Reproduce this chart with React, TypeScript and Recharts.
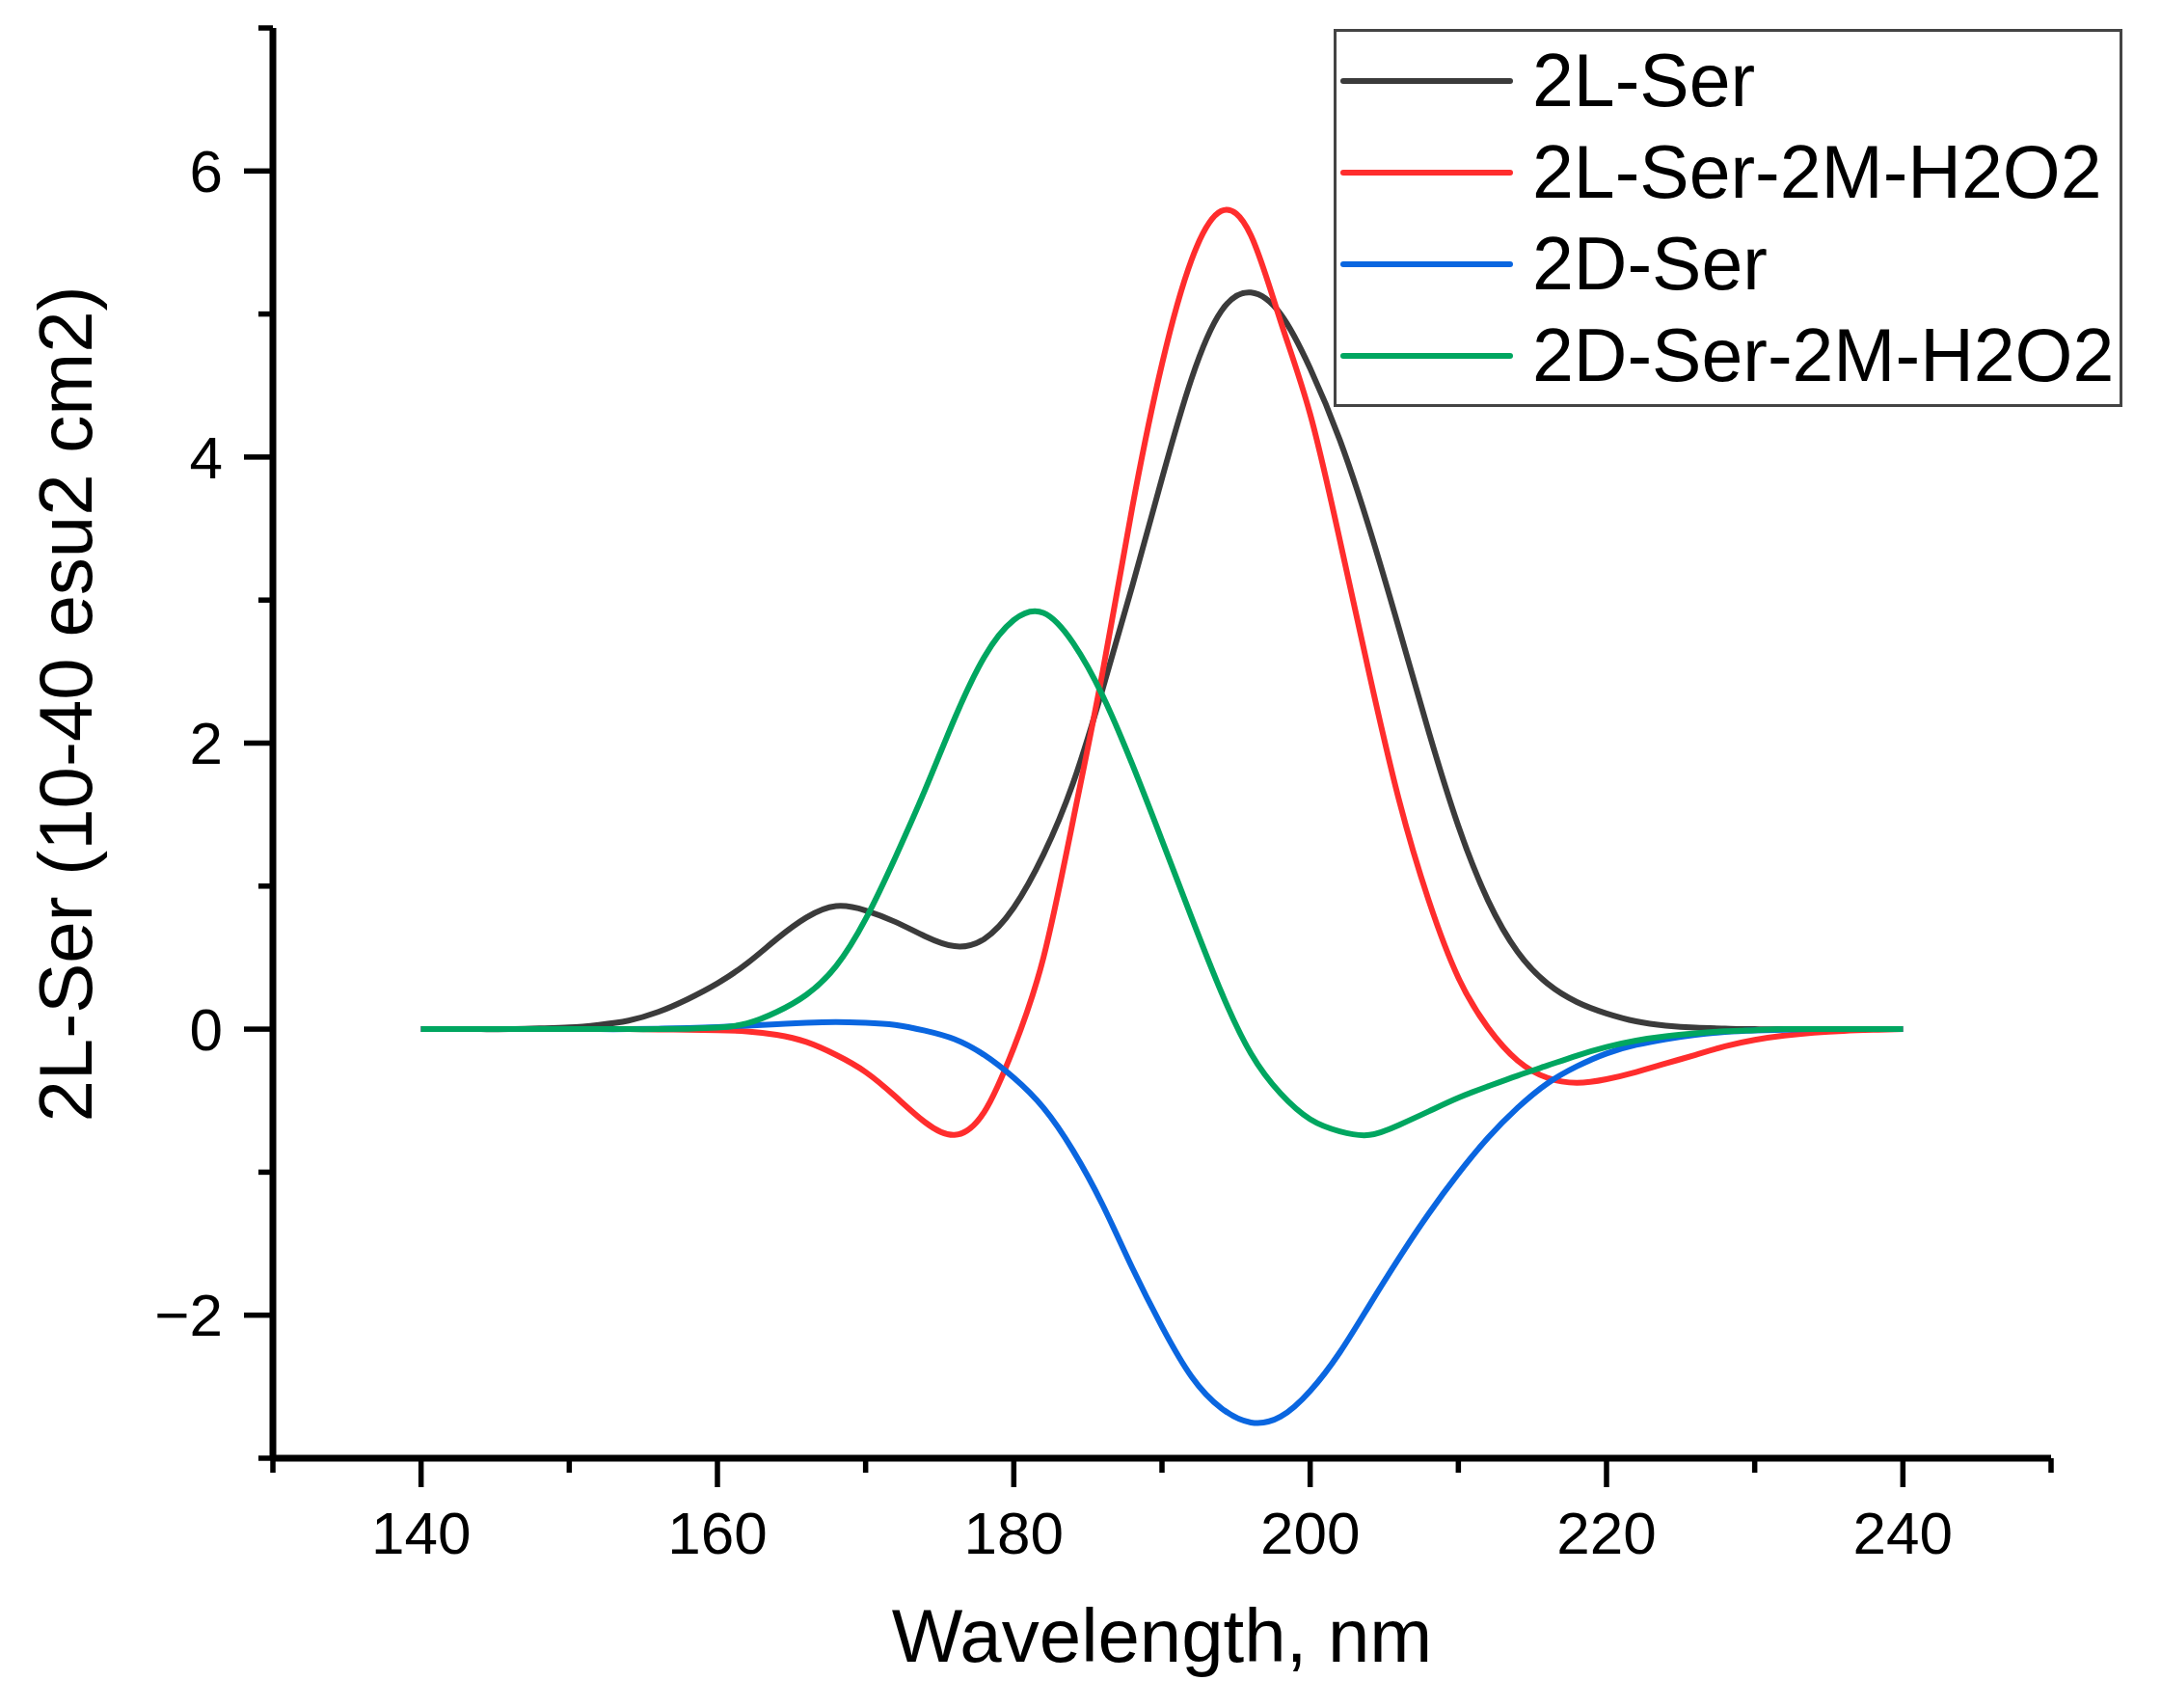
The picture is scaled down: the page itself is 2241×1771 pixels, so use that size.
import React from "react";
import { LineChart, Line, XAxis, YAxis, Legend } from "recharts";

// wavelength (nm)
const wavelength = [
  140, 142, 144, 146, 148, 150, 152, 154, 156, 158, 160, 162, 164, 166, 168, 170, 172,
  174, 176, 178, 180, 182, 184, 186, 188, 190, 192, 194, 196, 198, 200, 202, 204, 206,
  208, 210, 212, 214, 216, 218, 220, 222, 224, 226, 228, 230, 232, 234, 236, 238, 240,
];

// 2L-Ser
const lSer = [
  0, 0, 0, 0, 0.005, 0.012, 0.03, 0.06, 0.12, 0.21, 0.32, 0.46, 0.63, 0.78, 0.86, 0.83,
  0.75, 0.65, 0.58, 0.63, 0.85, 1.22, 1.72, 2.38, 3.1, 3.85, 4.55, 5.02, 5.15, 5.0, 4.62,
  4.12, 3.5, 2.8, 2.08, 1.42, 0.9, 0.54, 0.32, 0.19, 0.11, 0.055, 0.025, 0.01, 0.004,
  0, 0, 0, 0, 0, 0,
];

// 2L-Ser-2M-H2O2
const lSerH2O2 = [
  0, 0, 0, 0, 0, 0, 0, 0, -0.002, -0.004, -0.007, -0.016, -0.04, -0.09, -0.18, -0.3,
  -0.47, -0.65, -0.74, -0.58, -0.13, 0.5, 1.46, 2.5, 3.65, 4.65, 5.38, 5.72, 5.55, 4.95,
  4.3, 3.42, 2.48, 1.6, 0.9, 0.36, 0.01, -0.22, -0.34, -0.375, -0.35, -0.3, -0.24, -0.18,
  -0.12, -0.075, -0.045, -0.025, -0.012, -0.005, 0,
];

// 2D-Ser
const dSer = [
  0, 0, 0, 0, 0, 0, 0, 0, 0.003, 0.008, 0.015, 0.025, 0.035, 0.045, 0.05, 0.045, 0.03,
  -0.01, -0.07, -0.18, -0.34, -0.55, -0.85, -1.23, -1.67, -2.08, -2.43, -2.65, -2.75,
  -2.71, -2.53, -2.26, -1.93, -1.6, -1.29, -1.01, -0.76, -0.55, -0.38, -0.26, -0.17, -0.11,
  -0.07, -0.04, -0.02, -0.01, -0.004, 0, 0, 0, 0,
];

// 2D-Ser-2M-H2O2
const dSerH2O2 = [
  0, 0, 0, 0, 0, 0, 0, 0, 0, 0.003, 0.01, 0.04, 0.12, 0.24, 0.44, 0.77, 1.2, 1.67, 2.17,
  2.6, 2.86, 2.91, 2.7, 2.33, 1.85, 1.32, 0.78, 0.26, -0.17, -0.45, -0.63, -0.715, -0.74,
  -0.67, -0.575, -0.48, -0.4, -0.325, -0.255, -0.185, -0.125, -0.08, -0.05, -0.03, -0.015,
  -0.007, 0, 0, 0, 0, 0,
];

const xTicks = [130, 140, 150, 160, 170, 180, 190, 200, 210, 220, 230, 240, 250];
const xLabelled = [140, 160, 180, 200, 220, 240];
const yTicks = [-3, -2, -1, 0, 1, 2, 3, 4, 5, 6, 7];
const yLabelled = [-2, 0, 2, 4, 6];

const series = [
  { key: "lSer", name: "2L-Ser", color: "#3b3b3b" },
  { key: "lSerH2O2", name: "2L-Ser-2M-H2O2", color: "#ff2d2d" },
  { key: "dSer", name: "2D-Ser", color: "#0a66e0" },
  { key: "dSerH2O2", name: "2D-Ser-2M-H2O2", color: "#00a660" },
];

const chartData = wavelength.map((x, i) => ({
  x,
  lSer: lSer[i],
  lSerH2O2: lSerH2O2[i],
  dSer: dSer[i],
  dSerH2O2: dSerH2O2[i],
}));

const FONT = '"Liberation Sans", Arial, Helvetica, sans-serif';

function XTick(props: any) {
  const { x, y, payload } = props;
  const major = xLabelled.includes(payload.value);
  return (
    <g>
      <line x1={x} x2={x} y1={y} y2={y + (major ? 30 : 15)} stroke="#000" strokeWidth={5.5} />
      {major && (
        <text x={x} y={y + 99} textAnchor="middle" fontSize={62} fontFamily={FONT} fill="#000">
          {payload.value}
        </text>
      )}
    </g>
  );
}

function YTick(props: any) {
  const { x, y, payload } = props;
  const v = payload.value;
  const major = yLabelled.includes(v);
  return (
    <g>
      <line x1={x} x2={x - (major ? 30 : 15)} y1={y} y2={y} stroke="#000" strokeWidth={5.5} />
      {major && (
        <text x={x - 52} y={y} dy="0.35em" textAnchor="end" fontSize={62} fontFamily={FONT} fill="#000">
          {v < 0 ? `\u2212${-v}` : `${v}`}
        </text>
      )}
    </g>
  );
}

// legend drawn in series order (recharts would sort it by name)
function LegendBox() {
  return (
    <div
      style={{
        width: 818,
        height: 392,
        boxSizing: "border-box",
        border: "3px solid #444",
        background: "#fff",
        paddingTop: 3,
        fontFamily: FONT,
      }}
    >
      {series.map((s) => (
        <div key={s.key} style={{ display: "flex", alignItems: "center", height: 95 }}>
          <div style={{ width: 179, height: 6, borderRadius: 3, background: s.color, marginLeft: 4 }} />
          <span style={{ marginLeft: 20, fontSize: 77, lineHeight: 1, color: "#000", whiteSpace: "nowrap" }}>
            {s.name}
          </span>
        </div>
      ))}
    </div>
  );
}

export default function App() {
  return (
    <div style={{ width: 2225, height: 1755, background: "#fff" }}>
      <LineChart
        width={2225}
        height={1755}
        data={chartData}
        margin={{ top: 21, right: 106, bottom: 40, left: 75 }}
      >
        <XAxis
          dataKey="x"
          type="number"
          domain={[130, 250]}
          ticks={xTicks}
          interval={0}
          height={211}
          tickSize={0}
          tickMargin={0}
          tickLine={false}
          tick={XTick}
          axisLine={{ stroke: "#000", strokeWidth: 7 }}
          label={(p: any) => {
            const vb = p && p.viewBox ? p.viewBox : { x: 275, y: 1504, width: 1844, height: 211 };
            return (
              <text
                x={vb.x + vb.width / 2}
                y={vb.y + 211}
                textAnchor="middle"
                fontSize={78}
                fontFamily={FONT}
                fill="#000"
              >
                Wavelength, nm
              </text>
            );
          }}
        />
        <YAxis
          type="number"
          domain={[-3, 7]}
          ticks={yTicks}
          interval={0}
          width={200}
          tickSize={0}
          tickMargin={0}
          tickLine={false}
          tick={YTick}
          axisLine={{ stroke: "#000", strokeWidth: 7 }}
          label={() => (
            <text
              x={87}
              y={722}
              transform="rotate(-90 87 722)"
              textAnchor="middle"
              fontSize={78}
              fontFamily={FONT}
              fill="#000"
            >
              2L-Ser (10-40 esu2 cm2)
            </text>
          )}
        />
        <Legend
          layout="vertical"
          align="center"
          verticalAlign="middle"
          content={LegendBox}
          wrapperStyle={{ left: 1375, top: 22, width: 818, height: 392 }}
        />
        {series.map((s) => (
          <Line
            key={s.key}
            dataKey={s.key}
            name={s.name}
            type="natural"
            stroke={s.color}
            strokeWidth={6}
            dot={false}
            activeDot={false}
            isAnimationActive={false}
          />
        ))}
      </LineChart>
    </div>
  );
}
